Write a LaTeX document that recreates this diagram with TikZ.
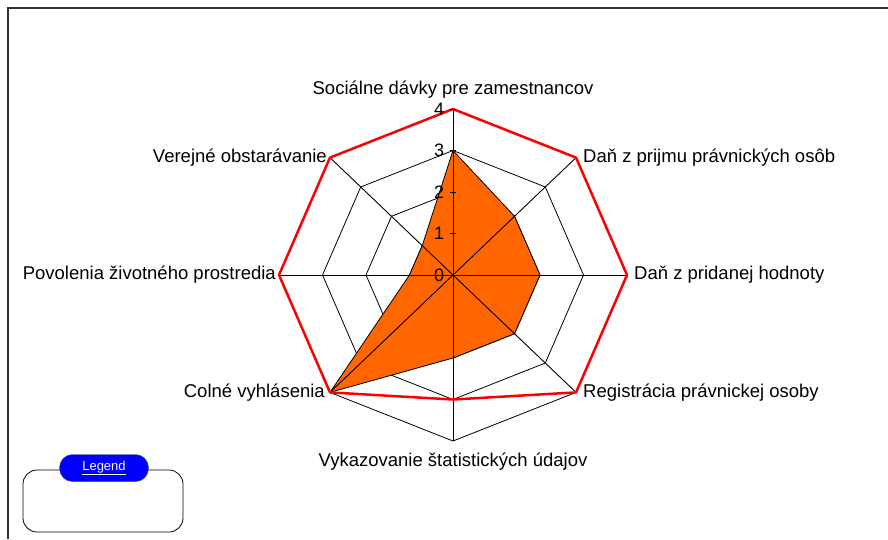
\documentclass[tikz,border=0pt]{standalone}
\usepackage{fontspec}
\setmainfont{Liberation Sans}
\usetikzlibrary{positioning}
\definecolor{seriesorange}{HTML}{FF6600}

\begin{document}
\begin{tikzpicture}[x=1pt,y=-1pt,
    axislabel/.style={inner sep=1pt,font=\fontsize{18.5}{20}\selectfont},
    ticklabel/.style={anchor=east,inner sep=0pt,font=\fontsize{18}{20}\selectfont}]
\useasboundingbox (0,0) rectangle (888,539);
\draw[line width=1.5pt,black!80] (8,539) -- (8,8) -- (888,8);

\begin{scope}[xshift=453pt,yshift=-275pt,x=43.5pt,y=41.5pt]
% grid
\foreach \r in {1,...,4}
    \draw[line width=0.8pt] (0,\r) \foreach \a in {45,0,...,-225}{
        -- ({\r*cos(\a)},{\r*sin(\a)}) } -- cycle;

% first series
\draw[line width=0.8pt,fill=seriesorange] (0,3) \foreach \v [count=\k,
    evaluate={\a=90-45*\k;}] in {2,2,2,2,4,1,1}{
        -- ({\v*cos(\a)},{\v*sin(\a)}) } -- cycle;

\foreach \k [evaluate={\a=90-45*\k;}] in {0,...,7}
    \draw[line width=0.9pt] (0,0) -- ({4*cos(\a)},{4*sin(\a)}) coordinate (v\k);

% second series
\draw[red,line width=2.5pt,line join=round] (0,4) \foreach \v [count=\k,
    evaluate={\a=90-45*\k;}] in {4,4,4,3,4,4,4}{
        -- ({\v*cos(\a)},{\v*sin(\a)}) } -- cycle;

\foreach \t in {0,...,4}{
    \draw[line width=0.8pt] (-0.06,\t) -- (0.06,\t);
    \node[ticklabel] (tick\t) at (-0.2,\t) {\t};
}
\end{scope}

\node[axislabel,above=9pt of v0] (soc) {Sociálne dávky pre zamestnancov};
\node[axislabel,right=6pt of v1] (dprijem) {Daň z prijmu právnických osôb};
\node[axislabel,right=6pt of v2] (dph) {Daň z pridanej hodnoty};
\node[axislabel,right=6pt of v3] (reg) {Registrácia právnickej osoby};
\node[axislabel,below=11pt of v4] (vyk) {Vykazovanie štatistických údajov};
\node[axislabel,left=4pt of v5] (col) {Colné vyhlásenia};
\node[axislabel,left=2pt of v6] (pov) {Povolenia životného prostredia};
\node[axislabel,left=2pt of v7] (ver) {Verejné obstarávanie};

% legend
\draw[line width=0.8pt,rounded corners=14pt] (23,470) rectangle (183,532);
\node[draw=black!70,fill=blue,rounded corners=13pt,minimum width=89pt,
    minimum height=27pt,inner sep=0pt,text=white,
    font=\fontsize{13}{14}\selectfont] (legend) at (104,468) {\underline{Legend}};
\end{tikzpicture}
\end{document}
